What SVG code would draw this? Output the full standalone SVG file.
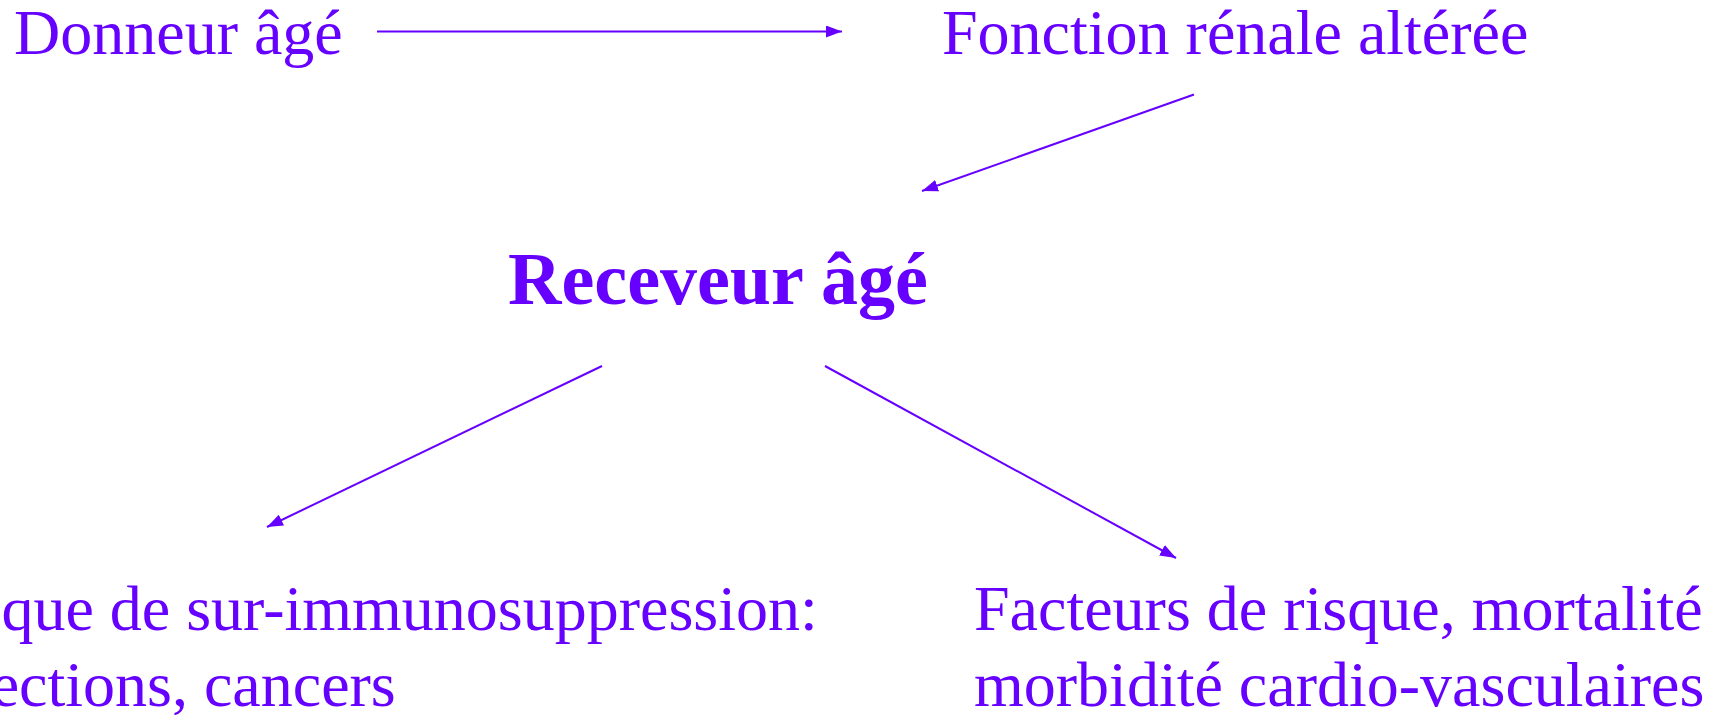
<svg xmlns="http://www.w3.org/2000/svg" width="1721" height="715" viewBox="0 0 1721 715">
  <style>
    .t { font-family: "Liberation Serif", "Times New Roman", serif; font-size: 64px; fill: #6600FF; }
    .b { font-weight: bold; font-size: 74px; }
    .c { stroke: #6600FF; stroke-width: 2; fill: none; marker-end: url(#ah); }
  </style>
  <defs>
    <marker id="ah" markerUnits="userSpaceOnUse" markerWidth="16" markerHeight="12" refX="16" refY="6" orient="auto">
      <path d="M0,0 L16,6 L0,12 z" fill="#6600FF"/>
    </marker>
  </defs>
  <rect width="1721" height="715" fill="#ffffff"/>
  <g id="donneur">
    <text class="t" x="14" y="54">Donneur âgé</text>
  </g>
  <g id="fonction">
    <text class="t" x="942" y="54">Fonction rénale altérée</text>
  </g>
  <g id="receveur">
    <text class="t b" x="508" y="304">Receveur âgé</text>
  </g>
  <g id="risque">
    <text class="t" x="-84" y="630">Risque de sur-immunosuppression:</text>
    <text class="t" x="-84" y="706">Infections, cancers</text>
  </g>
  <g id="facteurs">
    <text class="t" x="974" y="630">Facteurs de risque, mortalité</text>
    <text class="t" x="974" y="706">morbidité cardio-vasculaires</text>
  </g>
  <g id="connectors">
    <line class="c" x1="377" y1="31.5" x2="842" y2="31.5"/>
    <line class="c" x1="1194" y1="94.5" x2="922" y2="191"/>
    <line class="c" x1="602" y1="366" x2="267" y2="527"/>
    <line class="c" x1="825" y1="366" x2="1176" y2="558"/>
  </g>
</svg>
